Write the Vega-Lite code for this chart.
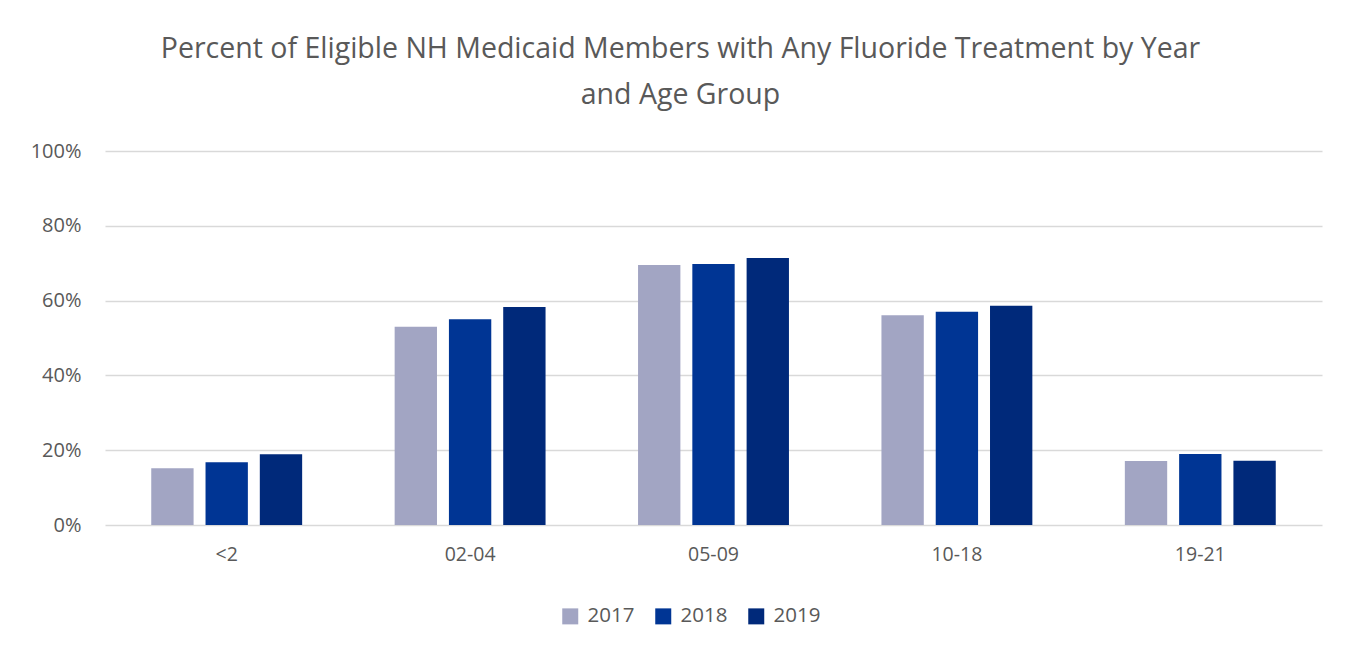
{
  "$schema": "https://vega.github.io/schema/vega-lite/v6.json",
  "width": 1217,
  "height": 374,
  "padding": {"left": 30, "top": 34, "right": 31, "bottom": 10},
  "background": "white",
  "title": {
    "text": ["Percent of Eligible NH Medicaid Members with Any Fluoride Treatment by Year", "and Age Group"],
    "fontSize": 28.5,
    "font": "Open Sans",
    "fontWeight": "normal",
    "color": "#595959",
    "lineHeight": 46,
    "anchor": "middle",
    "dx": -33,
    "offset": 32
  },
  "data": {
    "values": [
      {"age": "<2", "year": "2017", "pct": 0.152},
      {"age": "<2", "year": "2018", "pct": 0.168},
      {"age": "<2", "year": "2019", "pct": 0.189},
      {"age": "02-04", "year": "2017", "pct": 0.530},
      {"age": "02-04", "year": "2018", "pct": 0.550},
      {"age": "02-04", "year": "2019", "pct": 0.583},
      {"age": "05-09", "year": "2017", "pct": 0.695},
      {"age": "05-09", "year": "2018", "pct": 0.698},
      {"age": "05-09", "year": "2019", "pct": 0.714},
      {"age": "10-18", "year": "2017", "pct": 0.561},
      {"age": "10-18", "year": "2018", "pct": 0.570},
      {"age": "10-18", "year": "2019", "pct": 0.586},
      {"age": "19-21", "year": "2017", "pct": 0.171},
      {"age": "19-21", "year": "2018", "pct": 0.190},
      {"age": "19-21", "year": "2019", "pct": 0.172}
    ]
  },
  "mark": {"type": "bar"},
  "encoding": {
    "x": {
      "field": "age",
      "type": "nominal",
      "sort": ["<2", "02-04", "05-09", "10-18", "19-21"],
      "scale": {"paddingInner": 0.38, "paddingOuter": 0.19},
      "axis": {
        "title": null,
        "labelAngle": 0,
        "labelFontSize": 19.5,
        "labelFont": "Open Sans",
        "labelColor": "#595959",
        "ticks": false,
        "domain": false,
        "labelPadding": 20
      }
    },
    "xOffset": {
      "field": "year",
      "type": "nominal",
      "scale": {"paddingInner": 0.22, "paddingOuter": 0}
    },
    "y": {
      "field": "pct",
      "type": "quantitative",
      "scale": {"domain": [0, 1]},
      "axis": {
        "title": null,
        "format": ".0%",
        "values": [0, 0.2, 0.4, 0.6, 0.8, 1],
        "labelFontSize": 20,
        "labelFont": "Open Sans",
        "labelColor": "#595959",
        "ticks": false,
        "domain": false,
        "labelPadding": 24,
        "gridColor": "#D9D9D9",
        "gridWidth": 1.5
      }
    },
    "color": {
      "field": "year",
      "type": "nominal",
      "scale": {"domain": ["2017", "2018", "2019"], "range": ["#A2A5C3", "#003594", "#00297A"]},
      "legend": {
        "title": null,
        "orient": "none",
        "legendX": 455,
        "legendY": 455,
        "direction": "horizontal",
        "symbolType": "square",
        "symbolSize": 256,
        "symbolStrokeWidth": 0,
        "labelFontSize": 20.5,
        "labelFont": "Open Sans",
        "labelColor": "#595959",
        "columnPadding": 18,
        "labelOffset": 7
      }
    }
  },
  "config": {
    "view": {"stroke": null}
  }
}
